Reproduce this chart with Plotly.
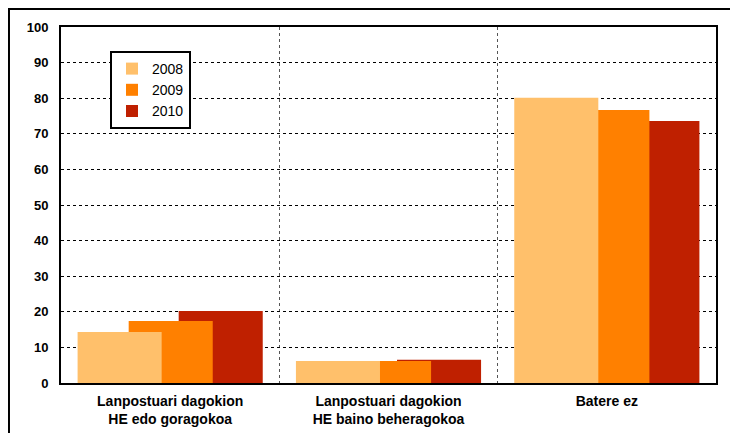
import plotly.graph_objects as go

categories = ["Lanpostuari dagokion<br>HE edo goragokoa",
              "Lanpostuari dagokion<br>HE baino beheragokoa",
              "Batere ez"]
years = ["2008", "2009", "2010"]
values_2008 = [14.3, 6.2, 80.1]
values_2009 = [17.4, 6.2, 76.7]
values_2010 = [20.2, 6.5, 73.6]
y_ticks = [0, 10, 20, 30, 40, 50, 60, 70, 80, 90, 100]

series = {"2008": values_2008, "2009": values_2009, "2010": values_2010}
colors = {"2008": "#FFC06B", "2009": "#FF8000", "2010": "#BF2000"}
offsets = {"2008": -0.424, "2009": -0.19, "2010": 0.039}
bar_width = 0.385
xpos = list(range(len(categories)))

fig = go.Figure()
# draw 2010 first so 2008 lies on top (as in the reference)
for yr in reversed(years):
    fig.add_trace(go.Bar(
        x=xpos, y=series[yr], name=yr,
        marker=dict(color=colors[yr], line=dict(width=0)),
        width=bar_width, offset=offsets[yr],
        legendrank=int(yr),
    ))

PW, PH = 655, 356
fig.update_layout(
    width=738, height=433,
    margin=dict(l=53, r=30, t=19, b=58),
    paper_bgcolor="white", plot_bgcolor="white",
    barmode="overlay",
    font=dict(family="Liberation Sans, Arial, sans-serif", color="black"),
    showlegend=True,
    legend=dict(
        x=(110 - 61) / PW, y=(383 - 51) / PH, xanchor="left", yanchor="top",
        bordercolor="black", borderwidth=2, bgcolor="white",
        font=dict(size=14, family="Liberation Sans, Arial, sans-serif"),
        tracegroupgap=0, itemwidth=30,
    ),
    xaxis=dict(
        range=[-0.5, 2.5],
        tickmode="array", tickvals=xpos, ticktext=categories,
        tickfont=dict(size=14, family="Liberation Sans, Arial, sans-serif", weight="bold"),
        showgrid=False, ticks="", zeroline=False, ticklabelstandoff=4,
        showline=True, mirror=True, linecolor="black", linewidth=2,
        minor=dict(tickmode="array", tickvals=[0.5, 1.5], showgrid=True,
                   gridcolor="#555555", griddash="dot", gridwidth=1, ticks=""),
    ),
    yaxis=dict(
        range=[0, 100], tickmode="array", tickvals=y_ticks,
        tickfont=dict(size=13, family="Liberation Sans, Arial, sans-serif", weight="bold"),
        showgrid=True, gridcolor="black", griddash="dot", gridwidth=1,
        zeroline=False, ticks="", ticklabelstandoff=8,
        showline=True, mirror=True, linecolor="black", linewidth=2,
    ),
    shapes=[dict(type="rect", xref="paper", yref="paper",
                 x0=-53 / PW + 0.0015, x1=1.2, y0=-0.3, y1=1 + 19 / PH - 0.003,
                 line=dict(color="black", width=2), fillcolor="rgba(0,0,0,0)",
                 layer="below")],
)

fig.write_html("out.html")
